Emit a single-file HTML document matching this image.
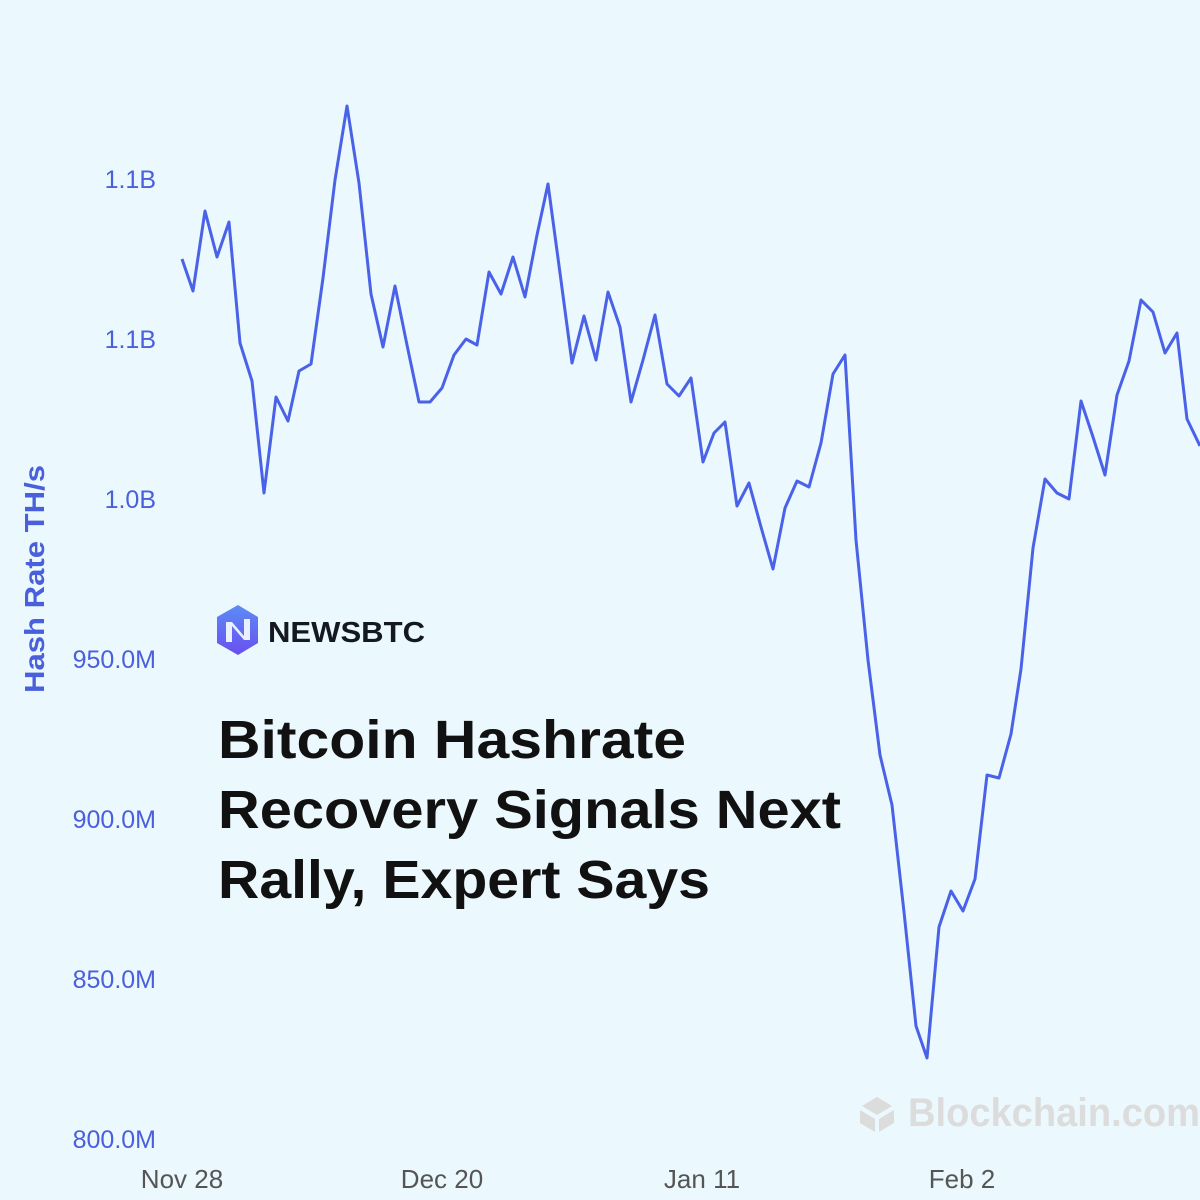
<!DOCTYPE html>
<html><head><meta charset="utf-8"><style>
html,body{margin:0;padding:0;background:#ebf8fd;}
svg{display:block;}
</style></head><body>
<svg width="1200" height="1200" viewBox="0 0 1200 1200" xmlns="http://www.w3.org/2000/svg">
<rect width="1200" height="1200" fill="#ebf8fd"/>
<g font-family="Liberation Sans, sans-serif" font-size="25" fill="#4a5fdc" text-anchor="end">
<text x="156" y="188">1.1B</text>
<text x="156" y="348">1.1B</text>
<text x="156" y="508">1.0B</text>
<text x="156" y="668">950.0M</text>
<text x="156" y="828">900.0M</text>
<text x="156" y="988">850.0M</text>
<text x="156" y="1148">800.0M</text>
</g>
<text transform="translate(44,579) rotate(-90)" font-family="Liberation Sans, sans-serif" font-size="28" font-weight="bold" fill="#4a5fdc" text-anchor="middle" textLength="228" lengthAdjust="spacingAndGlyphs">Hash Rate TH/s</text>
<g font-family="Liberation Sans, sans-serif" font-size="26" fill="#555" text-anchor="middle">
<text x="182" y="1188">Nov 28</text>
<text x="442" y="1188">Dec 20</text>
<text x="702" y="1188">Jan 11</text>
<text x="962" y="1188">Feb 2</text>
</g>
<g fill="#dcdcdc">
<path d="M877 1097 L892 1106 L877 1115 L862 1106Z"/>
<path d="M860 1110 L875 1119 L875 1132 L860 1123Z"/>
<path d="M894 1110 L879 1119 L879 1132 L894 1123Z"/>
</g>
<text x="908" y="1126" font-family="Liberation Sans, sans-serif" font-size="40" font-weight="bold" fill="#dcdcdc" textLength="292" lengthAdjust="spacingAndGlyphs">Blockchain.com</text>
<polyline fill="none" stroke="#4a62e8" stroke-width="3" stroke-linejoin="round" points="182,259 193,291 205,211 217,257 229,222 240,343 252,381 264,493 276,397 288,421 299,371 311,364 323,278 335,180 347,106 359,183 371,294 383,347 395,286 407,345 419,402 430,402 442,388 454,355 466,339 477,345 489,272 501,294 513,257 525,297 537,235 548,184 560,273 572,363 584,316 596,360 608,292 620,327 631,402 643,360 655,315 667,384 679,396 691,378 703,462 714,433 725,422 737,506 749,483 761,527 773,569 785,508 797,481 809,487 821,443 833,374 845,355 856,540 868,660 880,755 892,805 904,912 916,1026 927,1058 939,927 951,891 963,911 975,879 987,775 999,778 1011,734 1021,669 1033,548 1045,479 1057,493 1069,499 1081,401 1093,437 1105,475 1117,395 1129,361 1141,300 1153,312 1165,353 1177,333 1187,419 1200,446"/>
<defs><linearGradient id="lg" x1="0" y1="0" x2="0" y2="1"><stop offset="0" stop-color="#5b8cf5"/><stop offset="1" stop-color="#6a4ff0"/></linearGradient></defs>
<path d="M238 605 L258 617 L258 643 L238 655 L217 643 L217 617Z" fill="url(#lg)"/>
<path d="M226 642 L226 622 L232 622 L244 636 L244 619 L250 619 L250 640 L244 640 L232 626 L232 642Z" fill="#eaf0ff"/>
<text x="268" y="642" font-family="Liberation Sans, sans-serif" font-size="29" font-weight="bold" fill="#141821" textLength="157" lengthAdjust="spacingAndGlyphs">NEWSBTC</text>
<g font-family="Liberation Sans, sans-serif" font-size="54" font-weight="bold" fill="#111">
<text x="218" y="758" textLength="468" lengthAdjust="spacingAndGlyphs">Bitcoin Hashrate</text>
<text x="218" y="828" textLength="623" lengthAdjust="spacingAndGlyphs">Recovery Signals Next</text>
<text x="218" y="898" textLength="492" lengthAdjust="spacingAndGlyphs">Rally, Expert Says</text>
</g>
</svg>
</body></html>
